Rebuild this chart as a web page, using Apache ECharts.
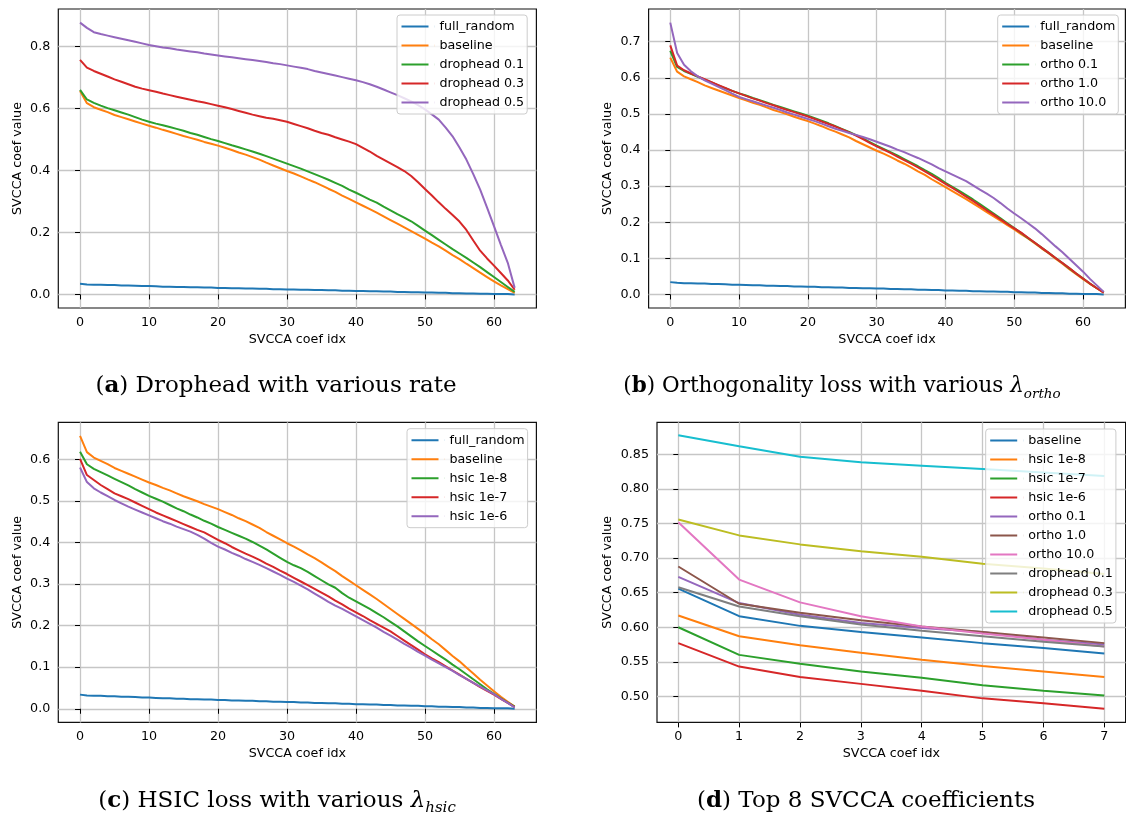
<!DOCTYPE html>
<html>
<head>
<meta charset="utf-8">
<script src="https://cdn.jsdelivr.net/npm/echarts@6/dist/echarts.min.js"></script>
<style>
html,body{margin:0;padding:0;background:#fff;}
#chart{width:1126px;height:816px;}
</style>
</head>
<body>
<div id="chart"></div>
<script>
// ---- data (SVCCA coef value per coef idx) ----
var fullRandom = [0.034,0.032,0.031,0.031,0.030,0.030,0.029,0.029,0.028,0.027,0.027,0.026,0.025,0.025,0.024,0.024,
	0.023,0.023,0.022,0.022,0.021,0.021,0.020,0.020,0.019,0.019,0.018,0.018,0.017,0.017,0.016,0.016,
	0.015,0.015,0.014,0.014,0.013,0.013,0.012,0.012,0.011,0.011,0.010,0.010,0.009,0.009,0.008,0.008,
	0.007,0.007,0.006,0.006,0.005,0.005,0.004,0.004,0.003,0.003,0.002,0.002,0.001,0.001,0.001,0.000];
var baseline = [0.656,0.617,0.604,0.596,0.588,0.579,0.572,0.565,0.558,0.551,0.544,0.538,0.531,0.525,0.518,0.511,
	0.505,0.499,0.492,0.486,0.480,0.473,0.466,0.458,0.451,0.443,0.435,0.425,0.416,0.407,0.398,0.390,
	0.381,0.371,0.362,0.352,0.341,0.331,0.319,0.308,0.297,0.286,0.275,0.264,0.252,0.240,0.228,0.216,
	0.204,0.192,0.180,0.167,0.155,0.141,0.127,0.114,0.099,0.085,0.070,0.056,0.042,0.029,0.017,0.005];
var drophead01 = [0.660,0.629,0.618,0.609,0.601,0.594,0.587,0.580,0.572,0.564,0.557,0.551,0.546,0.540,0.534,0.528,
	0.521,0.515,0.508,0.501,0.495,0.488,0.481,0.475,0.468,0.461,0.454,0.446,0.438,0.430,0.422,0.414,
	0.406,0.397,0.388,0.379,0.370,0.360,0.350,0.338,0.328,0.317,0.306,0.296,0.283,0.271,0.259,0.248,
	0.236,0.221,0.206,0.191,0.176,0.161,0.146,0.132,0.118,0.103,0.088,0.072,0.056,0.040,0.024,0.008];
var drophead03 = [0.757,0.732,0.721,0.712,0.703,0.694,0.686,0.678,0.670,0.664,0.659,0.654,0.648,0.643,0.638,0.633,
	0.628,0.623,0.619,0.614,0.609,0.604,0.598,0.592,0.586,0.580,0.575,0.570,0.567,0.562,0.557,0.550,
	0.543,0.536,0.528,0.521,0.515,0.507,0.500,0.493,0.485,0.473,0.461,0.447,0.435,0.423,0.411,0.398,
	0.382,0.362,0.340,0.319,0.297,0.276,0.256,0.235,0.208,0.174,0.141,0.116,0.093,0.069,0.045,0.015];
var drophead05 = [0.877,0.860,0.846,0.840,0.835,0.830,0.825,0.820,0.815,0.810,0.805,0.801,0.797,0.794,0.790,0.787,
	0.784,0.781,0.777,0.774,0.771,0.768,0.765,0.762,0.759,0.756,0.753,0.750,0.746,0.743,0.739,0.735,
	0.731,0.727,0.721,0.716,0.711,0.706,0.701,0.696,0.691,0.685,0.678,0.670,0.661,0.652,0.643,0.633,
	0.623,0.611,0.597,0.581,0.564,0.538,0.510,0.474,0.435,0.388,0.338,0.280,0.220,0.160,0.102,0.021];
var ortho01 = [0.675,0.630,0.619,0.611,0.603,0.595,0.587,0.579,0.571,0.564,0.557,0.551,0.544,0.538,0.532,0.525,
	0.519,0.513,0.507,0.501,0.495,0.488,0.481,0.474,0.466,0.458,0.450,0.441,0.432,0.422,0.412,0.403,
	0.394,0.385,0.375,0.365,0.355,0.344,0.334,0.322,0.309,0.298,0.287,0.275,0.263,0.250,0.237,0.224,
	0.211,0.197,0.184,0.170,0.156,0.143,0.129,0.115,0.101,0.087,0.072,0.058,0.044,0.030,0.017,0.006];
var ortho10 = [0.690,0.634,0.621,0.612,0.604,0.596,0.588,0.580,0.572,0.564,0.557,0.550,0.543,0.537,0.530,0.524,
	0.517,0.511,0.505,0.499,0.493,0.486,0.479,0.472,0.465,0.457,0.449,0.440,0.430,0.420,0.410,0.401,
	0.392,0.382,0.372,0.362,0.352,0.341,0.330,0.318,0.306,0.295,0.283,0.271,0.259,0.246,0.233,0.221,
	0.208,0.195,0.183,0.171,0.157,0.143,0.129,0.115,0.101,0.087,0.073,0.058,0.044,0.030,0.017,0.005];
var ortho100 = [0.753,0.669,0.636,0.618,0.604,0.593,0.584,0.575,0.566,0.556,0.547,0.541,0.535,0.529,0.523,0.517,
	0.511,0.504,0.498,0.492,0.486,0.480,0.473,0.466,0.459,0.453,0.447,0.442,0.436,0.430,0.423,0.416,
	0.409,0.401,0.394,0.386,0.378,0.369,0.360,0.350,0.341,0.332,0.323,0.314,0.302,0.290,0.279,0.267,
	0.253,0.238,0.224,0.211,0.197,0.183,0.167,0.150,0.133,0.117,0.099,0.081,0.063,0.043,0.025,0.007];
var hsic1e8 = [0.618,0.588,0.577,0.569,0.561,0.553,0.545,0.537,0.528,0.520,0.512,0.505,0.498,0.490,0.482,0.475,
	0.467,0.460,0.452,0.445,0.437,0.430,0.423,0.416,0.409,0.401,0.392,0.383,0.373,0.363,0.353,0.345,
	0.338,0.329,0.319,0.309,0.299,0.291,0.278,0.267,0.258,0.249,0.240,0.230,0.220,0.209,0.198,0.186,
	0.174,0.162,0.151,0.140,0.129,0.118,0.106,0.095,0.083,0.071,0.059,0.047,0.036,0.025,0.015,0.005];
var hsic1e7 = [0.601,0.562,0.550,0.538,0.528,0.518,0.511,0.504,0.496,0.488,0.480,0.472,0.465,0.458,0.451,0.444,
	0.437,0.430,0.424,0.415,0.406,0.398,0.389,0.381,0.373,0.366,0.358,0.349,0.341,0.332,0.324,0.315,
	0.306,0.297,0.288,0.279,0.270,0.260,0.251,0.241,0.232,0.223,0.213,0.204,0.195,0.186,0.175,0.164,
	0.153,0.142,0.131,0.121,0.112,0.102,0.092,0.082,0.072,0.062,0.052,0.043,0.034,0.024,0.014,0.004];
var hsic1e6 = [0.580,0.545,0.530,0.520,0.511,0.502,0.494,0.486,0.479,0.472,0.465,0.458,0.451,0.445,0.438,0.432,
	0.426,0.418,0.409,0.399,0.390,0.383,0.375,0.368,0.360,0.353,0.346,0.338,0.330,0.322,0.313,0.305,
	0.296,0.287,0.277,0.267,0.257,0.248,0.240,0.231,0.222,0.213,0.204,0.195,0.185,0.176,0.166,0.156,
	0.147,0.137,0.128,0.118,0.109,0.100,0.091,0.081,0.072,0.062,0.053,0.044,0.035,0.024,0.014,0.003];

// top 8 coefficients (panel d)
var top8Baseline = [0.656,0.616,0.602,0.593,0.585,0.577,0.570,0.562];
var top8Hsic1e8 = [0.617,0.587,0.574,0.563,0.553,0.544,0.536,0.528];
var top8Hsic1e7 = [0.600,0.560,0.547,0.536,0.527,0.516,0.508,0.501];
var top8Hsic1e6 = [0.577,0.543,0.528,0.518,0.508,0.497,0.490,0.482];
var top8Ortho01 = [0.673,0.635,0.618,0.606,0.599,0.593,0.582,0.575];
var top8Ortho10 = [0.688,0.634,0.621,0.610,0.601,0.593,0.585,0.577];
var top8Ortho100 = [0.752,0.669,0.636,0.616,0.601,0.591,0.582,0.572];
var top8Drop01 = [0.658,0.630,0.616,0.604,0.595,0.587,0.579,0.572];
var top8Drop03 = [0.756,0.733,0.720,0.710,0.702,0.692,0.685,0.677];
var top8Drop05 = [0.878,0.862,0.847,0.839,0.834,0.829,0.824,0.819];

// tick labels
var idxTicks = [0, 10, 20, 30, 40, 50, 60];
var top8Ticks = [0, 1, 2, 3, 4, 5, 6, 7];
var yTicksA = [0.0, 0.2, 0.4, 0.6, 0.8];
var yTicksB = [0.0, 0.1, 0.2, 0.3, 0.4, 0.5, 0.6, 0.7];
var yTicksC = [0.0, 0.1, 0.2, 0.3, 0.4, 0.5, 0.6];
var yTicksD = [0.50, 0.55, 0.60, 0.65, 0.70, 0.75, 0.80, 0.85];

var C = ['#1f77b4','#ff7f0e','#2ca02c','#d62728','#9467bd','#8c564b','#e377c2','#7f7f7f','#bcbd22','#17becf'];

var panels = [
	{ grid:{left:58.3, top:9, width:478.1, height:299}, x:[-3.15,66.15], y:[-0.0439,0.9209],
	  xt:idxTicks, yt:yTicksA, yd:1, yGap:34, legend:{left:397, top:15},
	  lines:[['full_random',fullRandom,C[0]],['baseline',baseline,C[1]],['drophead 0.1',drophead01,C[2]],
	         ['drophead 0.3',drophead03,C[3]],['drophead 0.5',drophead05,C[4]]] },
	{ grid:{left:648.6, top:9, width:476.8, height:299}, x:[-3.15,66.15], y:[-0.0377,0.7907],
	  xt:idxTicks, yt:yTicksB, yd:1, yGap:34, legend:{left:997.7, top:15},
	  lines:[['full_random',fullRandom,C[0]],['baseline',baseline,C[1]],['ortho 0.1',ortho01,C[2]],
	         ['ortho 1.0',ortho10,C[3]],['ortho 10.0',ortho100,C[4]]] },
	{ grid:{left:58.3, top:422.3, width:478.1, height:300.1}, x:[-3.15,66.15], y:[-0.0328,0.6888],
	  xt:idxTicks, yt:yTicksC, yd:1, yGap:34, legend:{left:407, top:428.7},
	  lines:[['full_random',fullRandom,C[0]],['baseline',baseline,C[1]],['hsic 1e-8',hsic1e8,C[2]],
	         ['hsic 1e-7',hsic1e7,C[3]],['hsic 1e-6',hsic1e6,C[4]]] },
	{ grid:{left:657, top:422.3, width:468.6, height:300.1}, x:[-0.35,7.35], y:[0.4622,0.8968],
	  xt:top8Ticks, yt:yTicksD, yd:2, yGap:43, legend:{left:985.7, top:429},
	  lines:[['baseline',top8Baseline,C[0]],['hsic 1e-8',top8Hsic1e8,C[1]],['hsic 1e-7',top8Hsic1e7,C[2]],
	         ['hsic 1e-6',top8Hsic1e6,C[3]],['ortho 0.1',top8Ortho01,C[4]],['ortho 1.0',top8Ortho10,C[5]],
	         ['ortho 10.0',top8Ortho100,C[6]],['drophead 0.1',top8Drop01,C[7]],['drophead 0.3',top8Drop03,C[8]],
	         ['drophead 0.5',top8Drop05,C[9]]] }
];

var FONT = 'DejaVu Sans';
var FS = 12.7;

function toPoints(arr){
	var out = [];
	for (var i = 0; i < arr.length; i++) out.push([i, arr[i]]);
	return out;
}

var grids = [], xAxes = [], yAxes = [], series = [], legends = [];
panels.forEach(function(p, k){
	grids.push({left:p.grid.left, top:p.grid.top, width:p.grid.width, height:p.grid.height,
		show:true, borderColor:'#111', borderWidth:1.2, backgroundColor:'transparent'});
	xAxes.push({
		type:'value', gridIndex:k, min:p.x[0], max:p.x[1],
		name:'SVCCA coef idx', nameLocation:'middle', nameGap:25,
		nameTextStyle:{fontFamily:FONT, fontSize:FS, color:'#000'},
		axisLine:{show:false},
		axisTick:{show:true, inside:false, length:5, customValues:p.xt, lineStyle:{color:'#000', width:1}},
		axisLabel:{customValues:p.xt, margin:8, fontFamily:FONT, fontSize:FS, color:'#000',
			formatter:function(v){ return String(Math.round(v)); }},
		splitLine:{show:true, customValues:p.xt, lineStyle:{color:'#c6c6c6', width:1.3}}
	});
	yAxes.push({
		type:'value', gridIndex:k, min:p.y[0], max:p.y[1],
		name:'SVCCA coef value', nameLocation:'middle', nameGap:p.yGap,
		nameTextStyle:{fontFamily:FONT, fontSize:FS, color:'#000'},
		axisLine:{show:false},
		axisTick:{show:true, inside:false, length:5, customValues:p.yt, lineStyle:{color:'#000', width:1}},
		axisLabel:{customValues:p.yt, margin:8, fontFamily:FONT, fontSize:FS, color:'#000',
			formatter:(function(d){ return function(v){ return v.toFixed(d); }; })(p.yd)},
		splitLine:{show:true, customValues:p.yt, lineStyle:{color:'#c6c6c6', width:1.3}}
	});
	var ldata = [];
	p.lines.forEach(function(l){
		series.push({
			type:'line', name:l[0], xAxisIndex:k, yAxisIndex:k, data:toPoints(l[1]),
			symbol:'none', showSymbol:false, lineStyle:{color:l[2], width:2}, itemStyle:{color:l[2]},
			animation:false, silent:true
		});
		ldata.push({name:l[0], itemStyle:{color:l[2], borderWidth:0}});
	});
	legends.push({
		orient:'vertical', left:p.legend.left, top:p.legend.top, data:ldata,
		icon:'path://M0,0H27V2H0Z M32.9,0H33V2H32.9Z', itemWidth:33, itemHeight:2, itemGap:4,
		padding:[4,3,4,4.5], backgroundColor:'rgba(255,255,255,0.8)',
		borderColor:'#cccccc', borderWidth:1, borderRadius:3,
		selectedMode:false,
		textStyle:{fontFamily:FONT, fontSize:FS, color:'#000', lineHeight:15}
	});
});

function capRich(fs){
	return {
		b:{fontFamily:'DejaVu Serif', fontSize:fs, fontWeight:'bold', color:'#000'},
		l:{fontFamily:'DejaVu Serif', fontSize:fs, fontStyle:'italic', color:'#000'},
		s:{fontFamily:'DejaVu Serif', fontSize:fs - 8, fontStyle:'italic', color:'#000', verticalAlign:'bottom', lineHeight:14}
	};
}
function caption(text, cx, top, fs){
	return {text:text, left:cx, top:top, textAlign:'center', padding:0,
		textStyle:{fontFamily:'DejaVu Serif', fontSize:fs, fontWeight:'normal', color:'#000', lineHeight:30, rich:capRich(fs)}};
}

var chart = echarts.init(document.getElementById('chart'), null, {renderer:'canvas'});
chart.setOption({
	backgroundColor:'#fff',
	animation:false,
	title:[
		caption('({b|a}) Drophead with various rate', 276, 371, 23),
		caption('({b|b}) Orthogonality loss with various {l|λ}{s|ortho}', 842, 371, 21.5),
		caption('({b|c}) HSIC loss with various {l|λ}{s|hsic}', 277, 786, 23),
		caption('({b|d}) Top 8 SVCCA coefficients', 866, 786, 23)
	],
	grid:grids,
	xAxis:xAxes,
	yAxis:yAxes,
	legend:legends,
	series:series
});
</script>
</body>
</html>
